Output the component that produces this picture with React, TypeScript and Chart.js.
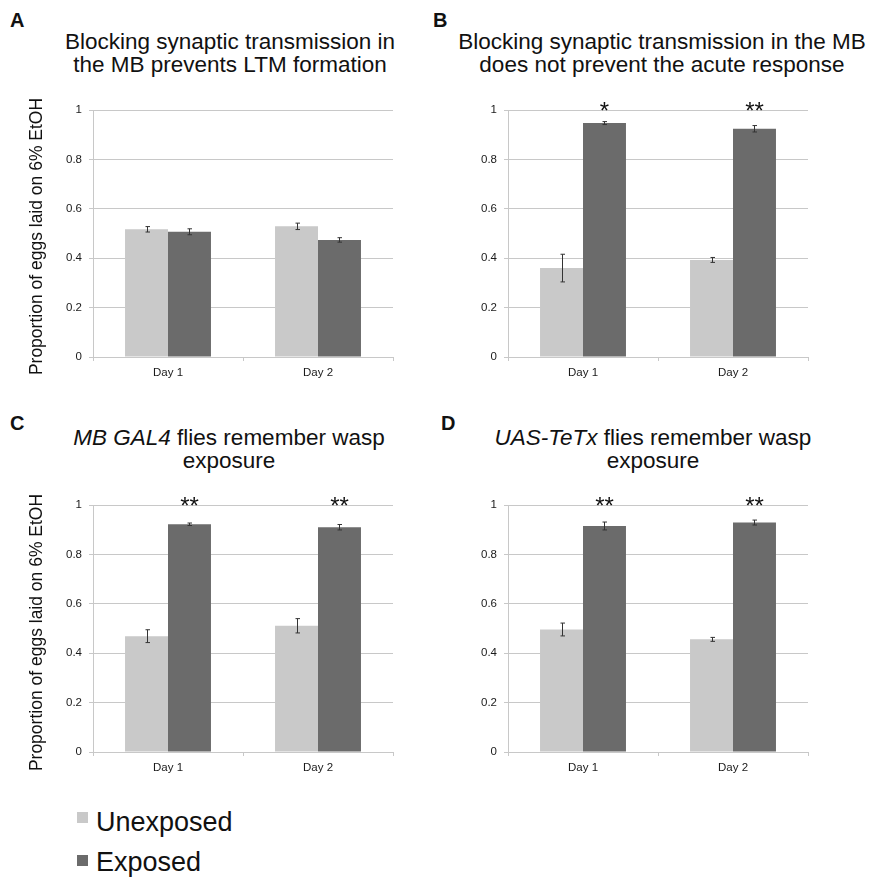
import React, { useEffect, useRef } from "react";
import { Chart, registerables } from "chart.js";

Chart.register(...registerables);

// ---------- data ----------
const categories = ["Day 1", "Day 2"];
const seriesNames = ["Unexposed", "Exposed"];
const yAxisTitle = "Proportion of eggs laid on 6% EtOH";
const yTickLabels = ["0", "0.2", "0.4", "0.6", "0.8", "1"];

// Panel A
const unexposedA = [0.517, 0.529];
const exposedA = [0.507, 0.474];
const errUnexposedA = [0.011, 0.013];
const errExposedA = [0.012, 0.009];
const starsA = ["", ""];

// Panel B
const unexposedB = [0.36, 0.393];
const exposedB = [0.947, 0.924];
const errUnexposedB = [0.056, 0.01];
const errExposedB = [0.006, 0.013];
const starsB = ["*", "**"];

// Panel C
const unexposedC = [0.469, 0.511];
const exposedC = [0.922, 0.91];
const errUnexposedC = [0.026, 0.029];
const errExposedC = [0.005, 0.011];
const starsC = ["**", "**"];

// Panel D
const unexposedD = [0.496, 0.456];
const exposedD = [0.915, 0.929];
const errUnexposedD = [0.026, 0.008];
const errExposedD = [0.016, 0.01];
const starsD = ["**", "**"];

// ---------- styles ----------
const FONT = '"Liberation Sans", Arial, Helvetica, sans-serif';
const LIGHT = "#c9c9c9";
const DARK = "#6b6b6b";
const GRID = "#c8c8c8";
const TEXT = "#1a1a1a";

type PanelProps = {
  left: number;
  top: number;
  yAxisWidth: number;
  showYTitle: boolean;
  yTitleShift: number;
  unexposed: number[];
  exposed: number[];
  errUnexposed: number[];
  errExposed: number[];
  stars: string[];
};

const CW = 420;
const CH = 300;

function Panel(p: PanelProps) {
  const ref = useRef<HTMLCanvasElement | null>(null);

  useEffect(() => {
    if (!ref.current) return;
    const errs = [p.errUnexposed, p.errExposed];

    const extras = {
      id: "panelExtras",
      afterDatasetsDraw(chart: any) {
        const ctx = chart.ctx;
        const yScale = chart.scales.y;
        ctx.save();
        // error bars
        ctx.strokeStyle = "#333333";
        ctx.lineWidth = 1;
        for (let i = 0; i < chart.data.datasets.length; i++) {
          const meta = chart.getDatasetMeta(i);
          const vals = chart.data.datasets[i].data as number[];
          meta.data.forEach((bar: any, j: number) => {
            const v = vals[j];
            const e = errs[i][j];
            const x = Math.round(bar.x) + 0.5;
            const y1 = yScale.getPixelForValue(v + e);
            const y2 = yScale.getPixelForValue(v - e);
            ctx.beginPath();
            ctx.moveTo(x, y1);
            ctx.lineTo(x, y2);
            ctx.moveTo(x - 2, y1);
            ctx.lineTo(x + 2.5, y1);
            ctx.moveTo(x - 2, y2);
            ctx.lineTo(x + 2.5, y2);
            ctx.stroke();
          });
        }
        // significance stars above exposed bars
        const metaE = chart.getDatasetMeta(1);
        ctx.fillStyle = "#111111";
        ctx.font = `24px ${FONT}`;
        ctx.textAlign = "center";
        ctx.textBaseline = "alphabetic";
        metaE.data.forEach((bar: any, j: number) => {
          const s = p.stars[j];
          if (!s) return;
          ctx.fillText(s, bar.x, yScale.getPixelForValue(1) + 9);
        });
        ctx.restore();
      },
      afterDraw(chart: any) {
        if (!p.showYTitle) return;
        const ctx = chart.ctx;
        const area = chart.chartArea;
        ctx.save();
        ctx.translate(41.5, (area.top + area.bottom) / 2 + p.yTitleShift);
        ctx.rotate(-Math.PI / 2);
        ctx.font = `17.5px ${FONT}`;
        ctx.fillStyle = "#111111";
        ctx.textAlign = "center";
        ctx.textBaseline = "alphabetic";
        ctx.fillText(yAxisTitle, 0, 0);
        ctx.restore();
      },
    };

    const chart = new Chart(ref.current, {
      type: "bar",
      data: {
        labels: categories,
        datasets: [
          {
            label: seriesNames[0],
            data: p.unexposed,
            backgroundColor: LIGHT,
            categoryPercentage: 0.573,
            barPercentage: 1,
          },
          {
            label: seriesNames[1],
            data: p.exposed,
            backgroundColor: DARK,
            categoryPercentage: 0.573,
            barPercentage: 1,
          },
        ],
      },
      options: {
        responsive: false,
        animation: false,
        events: [],
        layout: {
          padding: { left: 0, top: 20, right: CW - p.yAxisWidth - 300, bottom: 0 },
        },
        plugins: {
          legend: { display: false },
          tooltip: { enabled: false },
          title: { display: false },
        },
        scales: {
          x: {
            grid: {
              display: true,
              drawOnChartArea: false,
              drawTicks: true,
              tickLength: 4,
              color: GRID,
              offset: true,
            },
            border: { color: GRID },
            ticks: {
              font: { family: FONT, size: 11.5 },
              color: TEXT,
              padding: 5,
            },
            afterFit: (s: any) => {
              s.height = 33;
            },
          },
          y: {
            min: 0,
            max: 1,
            ticks: {
              stepSize: 0.2,
              font: { family: FONT, size: 11.5 },
              color: TEXT,
              padding: 7,
              callback: (_v: any, i: number) => yTickLabels[i],
            },
            grid: { color: GRID, tickLength: 4 },
            border: { color: GRID },
            afterFit: (s: any) => {
              s.width = p.yAxisWidth;
            },
          },
        },
      } as any,
      plugins: [extras],
    });
    return () => chart.destroy();
  }, []);

  return (
    <canvas
      ref={ref}
      width={CW}
      height={CH}
      style={{ position: "absolute", left: p.left, top: p.top, width: CW, height: CH }}
    />
  );
}

const letterStyle: React.CSSProperties = {
  position: "absolute",
  fontFamily: FONT,
  fontWeight: "bold",
  fontSize: 20,
  lineHeight: "20px",
  color: "#111",
};

const titleStyle = (center: number, top: number): React.CSSProperties => ({
  position: "absolute",
  left: center - 250,
  top,
  width: 500,
  textAlign: "center",
  fontFamily: FONT,
  fontSize: 22.5,
  lineHeight: "23px",
  color: "#111",
});

const legendText: React.CSSProperties = {
  position: "absolute",
  left: 96,
  fontFamily: FONT,
  fontSize: 27,
  lineHeight: "27px",
  color: "#111",
};

export default function App() {
  return (
    <div
      style={{
        position: "absolute",
        left: 0,
        top: 0,
        width: 870,
        height: 880,
        background: "#fff",
        overflow: "hidden",
      }}
    >
      <div style={{ ...letterStyle, left: 10, top: 10 }}>A</div>
      <div style={{ ...letterStyle, left: 433, top: 10 }}>B</div>
      <div style={{ ...letterStyle, left: 10, top: 413 }}>C</div>
      <div style={{ ...letterStyle, left: 441, top: 413 }}>D</div>

      <div style={titleStyle(230, 30)}>
        Blocking synaptic transmission in
        <br />
        the MB prevents LTM formation
      </div>
      <div style={titleStyle(662, 30)}>
        Blocking synaptic transmission in the MB
        <br />
        does not prevent the acute response
      </div>
      <div style={titleStyle(229, 426)}>
        <i>MB GAL4</i> flies remember wasp
        <br />
        exposure
      </div>
      <div style={titleStyle(653, 426)}>
        <i>UAS-TeTx</i> flies remember wasp
        <br />
        exposure
      </div>

      <Panel
        left={0}
        top={90}
        yAxisWidth={93}
        showYTitle={true}
        yTitleShift={3}
        unexposed={unexposedA}
        exposed={exposedA}
        errUnexposed={errUnexposedA}
        errExposed={errExposedA}
        stars={starsA}
      />
      <Panel
        left={435}
        top={90}
        yAxisWidth={73}
        showYTitle={false}
        yTitleShift={0}
        unexposed={unexposedB}
        exposed={exposedB}
        errUnexposed={errUnexposedB}
        errExposed={errExposedB}
        stars={starsB}
      />
      <Panel
        left={0}
        top={485}
        yAxisWidth={93}
        showYTitle={true}
        yTitleShift={4}
        unexposed={unexposedC}
        exposed={exposedC}
        errUnexposed={errUnexposedC}
        errExposed={errExposedC}
        stars={starsC}
      />
      <Panel
        left={435}
        top={485}
        yAxisWidth={73}
        showYTitle={false}
        yTitleShift={0}
        unexposed={unexposedD}
        exposed={exposedD}
        errUnexposed={errUnexposedD}
        errExposed={errExposedD}
        stars={starsD}
      />

      <div style={{ position: "absolute", left: 77, top: 812, width: 11, height: 11, background: LIGHT }} />
      <div style={{ ...legendText, top: 809 }}>{seriesNames[0]}</div>
      <div style={{ position: "absolute", left: 77, top: 855, width: 11, height: 11, background: DARK }} />
      <div style={{ ...legendText, top: 849 }}>{seriesNames[1]}</div>
    </div>
  );
}
